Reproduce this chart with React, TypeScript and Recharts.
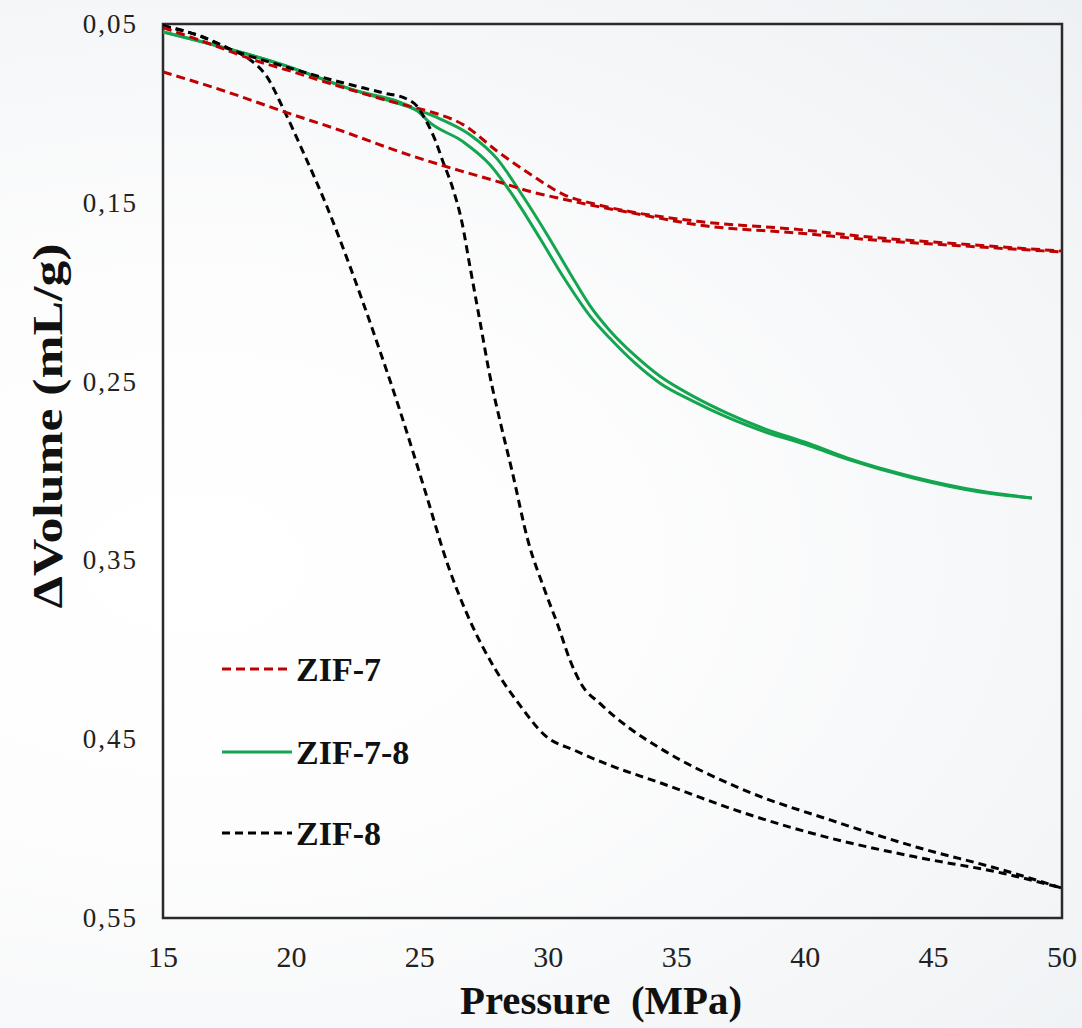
import React from "react";
import { LineChart, Line, XAxis, YAxis, ReferenceArea } from "recharts";

const SERIF = "'Liberation Serif', 'Times New Roman', serif";
const RED = "#c00000";
const GREEN = "#14a550";
const BLACK = "#000000";

const pressureTicks = [15, 20, 25, 30, 35, 40, 45, 50];
const volumeTicks = [0.05, 0.15, 0.25, 0.35, 0.45, 0.55];

// ZIF-7 (two branches)
const zif7UpP = [15, 17, 18.4, 20, 22.3, 24.2, 25.4, 26.7, 28, 29.3, 30.6, 31.9, 33.2, 35.9, 39.8, 42.4, 46, 50];
const zif7UpV = [0.052, 0.062, 0.0695, 0.0765, 0.0868, 0.0946, 0.099, 0.1064, 0.121, 0.134, 0.1454, 0.151, 0.155, 0.1605, 0.165, 0.169, 0.173, 0.177];
const zif7LowP = [15, 17.5, 19.7, 22, 24.2, 25.4, 26.7, 28, 29.3, 30.6, 31.9, 33.2, 35.9, 39.8, 42.4, 46, 50];
const zif7LowV = [0.0768, 0.088, 0.099, 0.11, 0.1214, 0.127, 0.1326, 0.138, 0.1437, 0.148, 0.152, 0.1555, 0.1625, 0.167, 0.1705, 0.174, 0.1775];

// ZIF-7-8 (two branches)
const zif78OuterP = [15, 19.67, 22.28, 24.89, 25.78, 26.95, 28.0, 29.02, 29.95, 30.85, 31.62, 32.4, 33.38, 34.35, 35.63, 36.96, 38.24, 40.19, 41.63, 44.2, 46.81, 48.83];
const zif78OuterV = [0.0545, 0.0729, 0.0863, 0.098, 0.103, 0.1119, 0.1253, 0.1465, 0.1677, 0.1895, 0.2075, 0.2215, 0.2355, 0.247, 0.2581, 0.2676, 0.2754, 0.2849, 0.2927, 0.3033, 0.3112, 0.3151];
const zif78InnerP = [15, 19.67, 22.28, 24.89, 25.39, 26.68, 27.73, 28.78, 29.68, 30.65, 31.62, 32.4, 33.38, 34.35, 35.63, 36.96, 38.24, 40.19, 41.63, 44.2, 46.81, 48.83];
const zif78InnerV = [0.0545, 0.0729, 0.0863, 0.0985, 0.1052, 0.1158, 0.1287, 0.1493, 0.17, 0.1929, 0.2132, 0.2258, 0.2397, 0.2509, 0.2609, 0.2699, 0.2771, 0.286, 0.2933, 0.3039, 0.3117, 0.3151];

// ZIF-8 (two branches)
const zif8LeftP = [15, 16.5, 17.6, 18.39, 19.05, 19.67, 20.45, 21.35, 22.28, 23.25, 24.23, 25.2, 26.1, 26.95, 27.92, 28.9, 29.87, 31.04, 32.4, 34.3, 37.65, 41.0, 44.35, 47.7, 50];
const zif8LeftV = [0.051, 0.057, 0.064, 0.07, 0.0796, 0.097, 0.1214, 0.151, 0.1856, 0.2247, 0.2665, 0.311, 0.353, 0.3837, 0.4105, 0.4311, 0.4479, 0.4563, 0.4646, 0.4741, 0.4914, 0.5054, 0.516, 0.525, 0.5333];
const zif8RightP = [15, 16.5, 17.6, 19.67, 21.77, 23.56, 24.5, 24.89, 25.2, 25.6, 25.9, 26.25, 26.64, 26.95, 27.34, 27.73, 28.12, 28.59, 29.21, 29.87, 30.38, 30.85, 31.27, 32.01, 33.18, 34.3, 37.65, 41.0, 44.35, 47.7, 50];
const zif8RightV = [0.051, 0.057, 0.064, 0.0735, 0.082, 0.0885, 0.092, 0.096, 0.103, 0.115, 0.127, 0.1405, 0.161, 0.1856, 0.2163, 0.247, 0.272, 0.3, 0.339, 0.367, 0.3865, 0.406, 0.4189, 0.43, 0.444, 0.4546, 0.4786, 0.4953, 0.5104, 0.5232, 0.5333];

const zip = (p: number[], v: number[]) => p.map((x, i) => ({ p: x, v: v[i] }));

const series = [
  { key: "zif78-outer", data: zip(zif78OuterP, zif78OuterV), color: GREEN, dash: undefined },
  { key: "zif78-inner", data: zip(zif78InnerP, zif78InnerV), color: GREEN, dash: undefined },
  { key: "zif8-left", data: zip(zif8LeftP, zif8LeftV), color: BLACK, dash: "8 5" },
  { key: "zif8-right", data: zip(zif8RightP, zif8RightV), color: BLACK, dash: "8 5" },
  { key: "zif7-up", data: zip(zif7UpP, zif7UpV), color: RED, dash: "9 5" },
  { key: "zif7-low", data: zip(zif7LowP, zif7LowV), color: RED, dash: "9 5" },
];

const legendItems = [
  { name: "ZIF-7", color: RED, dash: "9 5", y: 669 },
  { name: "ZIF-7-8", color: GREEN, dash: undefined, y: 752 },
  { name: "ZIF-8", color: BLACK, dash: "8 5", y: 833 },
];

const fmt = (v: number) => v.toFixed(2).replace(".", ",");

const YTick = ({ x, y, payload }: any) => (
  <text x={x - 25} y={y + 9} textAnchor="end" fontFamily={SERIF} fontSize={27} letterSpacing={2} fill="#222">
    {fmt(payload.value)}
  </text>
);

const XTick = ({ x, y, payload }: any) => (
  <text x={x} y={y + 49} textAnchor="middle" fontFamily={SERIF} fontSize={30} fill="#222">
    {payload.value}
  </text>
);

export default function App() {
  return (
    <div
      style={{
        position: "absolute",
        left: 0,
        top: 0,
        width: 1082,
        height: 1028,
        background: "radial-gradient(ellipse at 18% 55%, #ffffff 0%, #fdfdfd 35%, #eef1f4 100%)",
      }}
    >
      <LineChart width={1082} height={1028} margin={{ top: 24, right: 20, bottom: 0, left: 0 }}>
        <XAxis
          dataKey="p"
          type="number"
          domain={[15, 50]}
          ticks={pressureTicks}
          allowDataOverflow
          axisLine={false}
          tickLine={false}
          tickSize={0}
          tickMargin={0}
          height={110}
          tick={<XTick />}
        />
        <YAxis
          dataKey="v"
          type="number"
          domain={[0.05, 0.55]}
          ticks={volumeTicks}
          reversed
          allowDataOverflow
          axisLine={false}
          tickLine={false}
          tickSize={0}
          tickMargin={0}
          width={163}
          tick={<YTick />}
        />
        {series.map((s) => (
          <Line
            key={s.key}
            data={s.data}
            dataKey="v"
            type="monotone"
            stroke={s.color}
            strokeWidth={3}
            strokeDasharray={s.dash}
            dot={false}
            activeDot={false}
            isAnimationActive={false}
          />
        ))}
        <ReferenceArea x1={15} x2={50} y1={0.05} y2={0.55} fill="none" fillOpacity={0} stroke="#2a2a2a" strokeWidth={2.5} />
      </LineChart>
      <svg
        width={1082}
        height={1028}
        style={{ position: "absolute", left: 0, top: 0, pointerEvents: "none" }}
      >
        {legendItems.map((it) => (
          <g key={it.name}>
            <line x1={222} x2={292} y1={it.y} y2={it.y} stroke={it.color} strokeWidth={3} strokeDasharray={it.dash} />
            <text x={296} y={it.y + 12} fontFamily={SERIF} fontWeight="bold" fontSize={34} fill="#111">
              {it.name}
            </text>
          </g>
        ))}
        <text
          x={601}
          y={1014}
          textAnchor="middle"
          fontFamily={SERIF}
          fontWeight="bold"
          fontSize={41}
          textLength={282}
          lengthAdjust="spacingAndGlyphs"
          style={{ whiteSpace: "pre" }}
          fill="#111"
        >
          {"Pressure  (MPa)"}
        </text>
        <text
          transform="translate(62, 426) rotate(-90)"
          textAnchor="middle"
          fontFamily={SERIF}
          fontWeight="bold"
          fontSize={42}
          textLength={365}
          lengthAdjust="spacingAndGlyphs"
          fill="#111"
        >
          ΔVolume (mL/g)
        </text>
      </svg>
    </div>
  );
}
